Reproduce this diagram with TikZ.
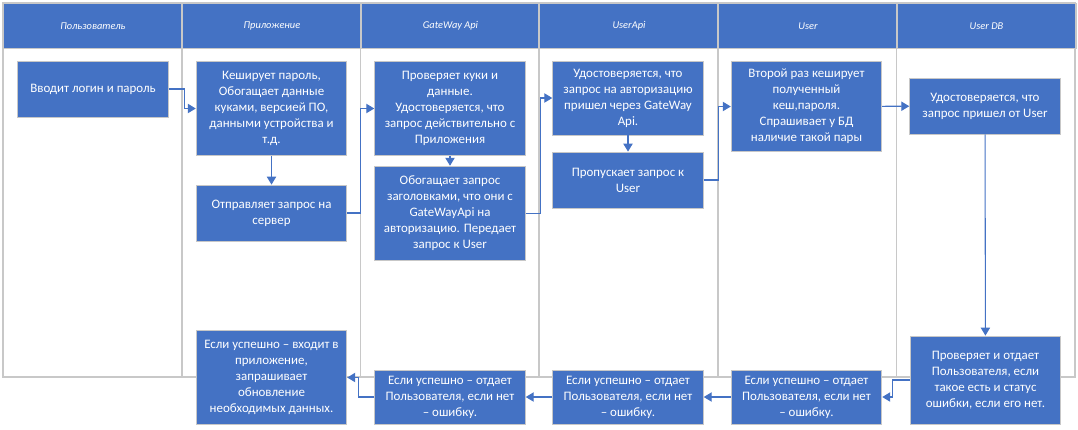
\documentclass[tikz,border=0pt]{standalone}
\usepackage{fontspec}
\setmainfont{Carlito}
\usetikzlibrary{positioning, arrows.meta}
\definecolor{officeblue}{HTML}{4472C4}
\definecolor{laneline}{HTML}{C8C8C8}
\tikzset{
  head/.style={
      rectangle,
      draw=laneline,
      line width=1pt,
      fill=officeblue,
      text=white,
      font=\itshape\fontsize{7.8}{9}\selectfont,
      minimum width=134pt,
      minimum height=33.75pt,
      inner sep=0pt
    },
  lane/.style={
      draw=laneline,
      line width=1pt
    },
  box/.style={
      rectangle,
      draw=black!22,
      line width=0.6pt,
      fill=officeblue,
      text=white,
      align=center,
      font=\fontsize{9.7}{12}\selectfont,
      minimum width=113pt,
      inner sep=1pt
    },
  arr/.style={
      -{Triangle[length=6pt,width=7pt]},
      draw=officeblue,
      line width=0.8pt
    }
}

\begin{document}
\begin{tikzpicture}[x=0.75pt, y=-0.75pt]
  \useasboundingbox (0,0) rectangle (1078,429);
  % swimlanes
  \foreach \i/\x/\t in {1/3/Пользователь, 2/182/Приложение, 3/360.5/GateWay Api,
                        4/539/UserApi, 5/718/User, 6/896.5/User DB} {
    \draw[lane] (\x,3) rectangle ++(178.5,374);
    \node[head, anchor=north west] (h\i) at (\x,3) {\t};
  }
  % request path
  \node[box, minimum height=42pt] (login) at (93,89) {Вводит логин и пароль};
  \node[box, minimum height=71pt] (cache) at (271.5,108.5) {Кеширует пароль,\\Обогащает данные\\куками, версией ПО,\\данными устройства и\\т.д.};
  \node[box, minimum height=42pt] (send) at (271.5,213) {Отправляет запрос на\\сервер};
  \node[box, minimum height=71pt] (check) at (450,108.5) {Проверяет куки и\\данные.\\Удостоверяется, что\\запрос действительно с\\Приложения};
  \node[box, minimum height=71pt] (enrich) at (450,213.5) {Обогащает запрос\\заголовками, что они с\\GateWayApi на\\авторизацию. Передает\\запрос к User};
  \node[box, minimum height=55.5pt] (verify) at (628,98) {Удостоверяется, что\\запрос на авторизацию\\пришел через GateWay\\Api.};
  \node[box, minimum height=42pt] (pass) at (628,180) {Пропускает запрос к\\User};
  \node[box, minimum height=68pt] (second) at (806.5,106.5) {Второй раз кеширует\\полученный\\кеш,пароля.\\Спрашивает у БД\\наличие такой пары};
  \node[box, minimum height=42pt] (dbcheck) at (985,106) {Удостоверяется, что\\запрос пришел от User};
  % response path
  \node[box, minimum height=66pt] (dbret) at (985.5,380) {Проверяет и отдает\\Пользователя, если\\такое есть и статус\\ошибки, если его нет.};
  \node[box, minimum height=40.5pt] (userret) at (806.5,397) {Если успешно – отдает\\Пользователя, если нет\\– ошибку.};
  \node[box, minimum height=40.5pt] (apiret) at (628,397) {Если успешно – отдает\\Пользователя, если нет\\– ошибку.};
  \node[box, minimum height=40.5pt] (gwret) at (450,397) {Если успешно – отдает\\Пользователя, если нет\\– ошибку.};
  \node[box, minimum height=70pt] (enter) at (271.5,377.5) {Если успешно – входит в\\приложение,\\запрашивает\\обновление\\необходимых данных.};

  \draw[arr] (login.east) -- ++(16,0) |- (cache.west);
  \draw[arr] (cache) -- (send);
  \draw[arr] (send.east) -- ++(13,0) |- (check.west);
  \draw[arr] (check) -- (enrich);
  \draw[arr] (enrich.east) -- ++(15,0) |- (verify.west);
  \draw[arr] (verify) -- (pass);
  \draw[arr] (pass.east) -- ++(15,0) |- (second.west);
  \draw[arr] (second) -- (dbcheck);
  \draw[arr] (dbcheck) -- (dbret);
  \draw[arr] (dbret.west) -- ++(-17,0) |- (userret.east);
  \draw[arr] (userret) -- (apiret);
  \draw[arr] (apiret) -- (gwret);
  \draw[arr] (gwret.west) -- ++(-16,0) |- (enter.east);
\end{tikzpicture}
\end{document}
